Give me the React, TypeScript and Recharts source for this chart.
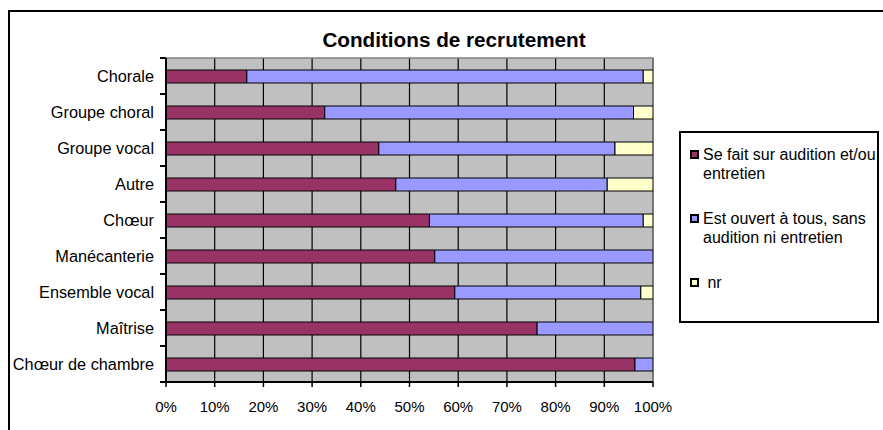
import React from 'react';
import { BarChart, Bar, XAxis, YAxis, CartesianGrid, Legend, ReferenceArea } from 'recharts';

const categories = [
  'Chorale',
  'Groupe choral',
  'Groupe vocal',
  'Autre',
  'Chœur',
  'Manécanterie',
  'Ensemble vocal',
  'Maîtrise',
  'Chœur de chambre',
];
const auditionValues = [16.6, 32.6, 43.7, 47.2, 54.1, 55.2, 59.3, 76.2, 96.3];
const ouvertValues = [81.4, 63.4, 48.5, 43.4, 43.9, 44.8, 38.2, 23.8, 3.7];
const nrValues = [2.0, 4.0, 7.8, 9.4, 2.0, 0, 2.5, 0, 0];
const xTicks = [0, 10, 20, 30, 40, 50, 60, 70, 80, 90, 100];

const seriesNames = ['Se fait sur audition et/ou entretien', 'Est ouvert à tous, sans audition ni entretien', 'nr'];
const legendLines = [
  ['Se fait sur audition et/ou', 'entretien'],
  ['Est ouvert à tous, sans', 'audition ni entretien'],
  [' nr'],
];
const colors = ['#993366', '#9999FF', '#FFFFCC'];

const data = categories.map((c, i) => ({
  name: c,
  a: auditionValues[i],
  b: ouvertValues[i],
  c: nrValues[i],
}));

const FONT = '"Liberation Sans", Arial, sans-serif';

const YTick = (props: any) => {
  const { x, y, payload, index, height, visibleTicksCount } = props;
  let off = 18;
  if (payload && typeof payload.offset === 'number' && payload.offset > 5) {
    off = payload.offset;
  } else if (typeof height === 'number' && visibleTicksCount) {
    off = height / visibleTicksCount / 2;
  }
  const ax = x + 12;
  const last = index === categories.length - 1;
  return (
    <g>
      <text x={x} y={y} dy="0.355em" textAnchor="end" fontSize={16.3} fontFamily={FONT} fill="#000">
        {payload.value}
      </text>
      <line x1={ax - 6} x2={ax} y1={y - off} y2={y - off} stroke="#000" strokeWidth={2} />
      {last && <line x1={ax - 6} x2={ax} y1={y + off} y2={y + off} stroke="#000" strokeWidth={2} />}
    </g>
  );
};

const renderLegend = () => (
  <div
    style={{
      position: 'relative',
      width: 200,
      height: 192,
      boxSizing: 'border-box',
      border: '2px solid #000',
      background: '#fff',
      fontFamily: FONT,
      fontSize: 16,
      color: '#000',
    }}
  >
    {legendLines.map((lines, i) => (
      <div key={i} style={{ position: 'absolute', left: 0, top: 13 + 64 * i, width: 196 }}>
        <div
          style={{
            position: 'absolute',
            left: 9,
            top: 3.5,
            width: 9,
            height: 9,
            boxSizing: 'border-box',
            border: '2px solid #000',
            background: colors[i],
          }}
        />
        <div style={{ position: 'absolute', left: 22, top: 0, lineHeight: '18.5px', whiteSpace: 'pre' }}>
          {lines.map((l, j) => (
            <div key={j}>{l}</div>
          ))}
        </div>
      </div>
    ))}
  </div>
);

export default function App() {
  return (
    <div style={{ position: 'absolute', left: 0, top: 0, width: 883, height: 430, background: '#fff', overflow: 'hidden' }}>
      <div
        style={{
          position: 'absolute',
          left: 8,
          top: 10,
          width: 875,
          height: 420,
          boxSizing: 'border-box',
          borderLeft: '2px solid #000',
          borderTop: '2px solid #000',
        }}
      />
      <div style={{ position: 'absolute', left: 0, top: 0 }}>
        <BarChart
          width={883}
          height={430}
          data={data}
          layout="vertical"
          margin={{ top: 58, right: 230, bottom: 18, left: 0 }}
          barSize={13}
        >
          <CartesianGrid horizontal={false} vertical={true} stroke="#000" strokeWidth={1.2} fill="#C0C0C0" fillOpacity={1} />
          <ReferenceArea x1={0} x2={100} stroke="#808080" strokeWidth={1.5} fill="none" fillOpacity={0} ifOverflow="visible" />
          <XAxis
            type="number"
            domain={[0, 100]}
            ticks={xTicks}
            allowDataOverflow
            tickFormatter={(v: number) => `${v}%`}
            axisLine={{ stroke: '#000', strokeWidth: 2 }}
            tickLine={{ stroke: '#000', strokeWidth: 1.5 }}
            tickSize={5}
            tickMargin={14}
            height={30}
            interval={0}
            tick={{ fontSize: 15, fontFamily: FONT, fill: '#000' }}
          />
          <YAxis
            type="category"
            dataKey="name"
            width={166}
            axisLine={{ stroke: '#000', strokeWidth: 2 }}
            tickLine={false}
            tickSize={6}
            tickMargin={6}
            interval={0}
            tick={<YTick />}
          />
          <Legend
            layout="vertical"
            align="center"
            verticalAlign="middle"
            content={renderLegend}
            wrapperStyle={{ position: 'absolute', left: 679, top: 131, width: 200, height: 192 }}
          />
          <Bar dataKey="a" name={seriesNames[0]} stackId="s" fill={colors[0]} stroke="#000" strokeWidth={1} isAnimationActive={false} />
          <Bar dataKey="b" name={seriesNames[1]} stackId="s" fill={colors[1]} stroke="#000" strokeWidth={1} isAnimationActive={false} />
          <Bar dataKey="c" name={seriesNames[2]} stackId="s" fill={colors[2]} stroke="#000" strokeWidth={1} isAnimationActive={false} />
        </BarChart>
      </div>
      <svg width={883} height={60} style={{ position: 'absolute', left: 0, top: 0, pointerEvents: 'none' }}>
        <text x={454} y={46.7} textAnchor="middle" fontSize={20.7} fontWeight="bold" fontFamily={FONT} fill="#000">
          Conditions de recrutement
        </text>
      </svg>
    </div>
  );
}
